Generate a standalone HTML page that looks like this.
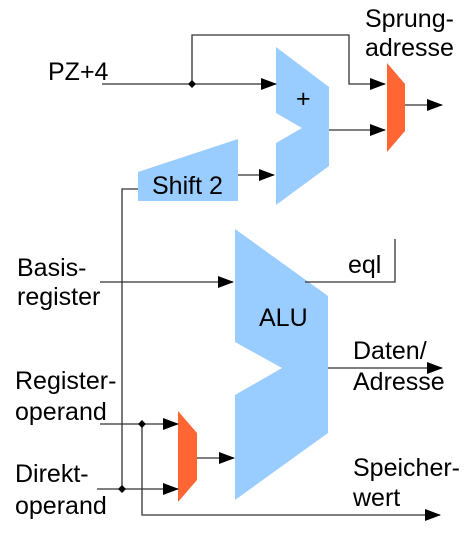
<!DOCTYPE html>
<html><head><meta charset="utf-8"><style>
html,body{margin:0;padding:0;background:#fff;}
svg{display:block;}
text{font-family:"Liberation Sans",sans-serif;font-size:25px;fill:#000;}
</style></head><body>
<svg width="466" height="533" viewBox="0 0 466 533" xmlns="http://www.w3.org/2000/svg">
<defs><marker id="a" markerWidth="16" markerHeight="12" refX="15" refY="6" orient="auto" markerUnits="userSpaceOnUse"><path d="M0,0 L16,6 L0,12 Z" fill="#000"/></marker></defs>
<g fill="#99ccff">
<polygon points="276,47 329,87 329,166 276,205 276,143 302,128 276,113"/>
<polygon points="138,172 238,139 238,201 138,201"/>
<polygon points="235,229 328,296 328,433 235,500 235,395 282,368 235,342"/>
</g>
<g fill="#ff6633">
<polygon points="387,63 405,84 405,131 387,152"/>
<polygon points="178,411 197,433 197,480 178,502"/>
</g>
<g stroke="#333" stroke-width="1.3" fill="none">
<line x1="102" y1="84" x2="276" y2="84" marker-end="url(#a)"/>
<polyline points="192,84 192,35 349,35 349,84 385,84" marker-end="url(#a)"/>
<line x1="329" y1="130" x2="385" y2="130" marker-end="url(#a)"/>
<line x1="405" y1="105" x2="442" y2="105" marker-end="url(#a)"/>
<line x1="238" y1="175" x2="274" y2="175" marker-end="url(#a)"/>
<polyline points="138,189 122,189 122,489"/>
<line x1="100" y1="282" x2="233" y2="282" marker-end="url(#a)"/>
<polyline points="305,282 395,282 395,239"/>
<line x1="328" y1="368" x2="442" y2="368" marker-end="url(#a)"/>
<line x1="100" y1="424" x2="178" y2="424" marker-end="url(#a)"/>
<polyline points="142,424 142,515 440,515" marker-end="url(#a)"/>
<line x1="97" y1="489" x2="178" y2="489" marker-end="url(#a)"/>
<line x1="197" y1="458" x2="234" y2="458" marker-end="url(#a)"/>
</g>
<g fill="#000">
<polygon points="192,80 196,84 192,88 188,84"/>
<polygon points="142,420 146,424 142,428 138,424"/>
<polygon points="122,485 126,489 122,493 118,489"/>
</g>
<text x="48" y="80">PZ+4</text>
<text x="365" y="27">Sprung-</text>
<text x="365" y="56">adresse</text>
<text x="296" y="107" font-size="20">+</text>
<text x="152" y="194">Shift 2</text>
<text x="17" y="276">Basis-</text>
<text x="17" y="305">register</text>
<text x="348" y="273">eql</text>
<text x="259" y="326">ALU</text>
<text x="353" y="359">Daten/</text>
<text x="353" y="390">Adresse</text>
<text x="15" y="389">Register-</text>
<text x="15" y="420">operand</text>
<text x="15" y="482">Direkt-</text>
<text x="15" y="514">operand</text>
<text x="353" y="476">Speicher-</text>
<text x="353" y="506">wert</text>
</svg>
</body></html>
